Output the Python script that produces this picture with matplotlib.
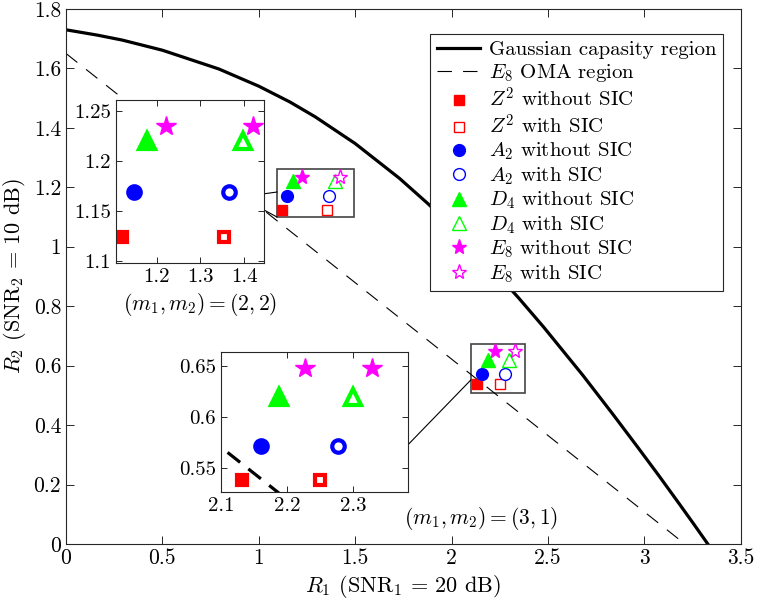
import numpy as np
import matplotlib
matplotlib.use('Agg')
import matplotlib.pyplot as plt
from matplotlib.patches import Rectangle

plt.rcParams['font.family'] = 'cmr10'
plt.rcParams['mathtext.fontset'] = 'cm'
plt.rcParams['axes.formatter.use_mathtext'] = True

# Gaussian capacity region boundary
cap_r1 = [0.0, 0.161, 0.2925, 0.5, 0.7925, 1.0, 1.161, 1.2925, 1.5, 1.7297,
          1.877, 2.0, 2.196, 2.350, 2.477, 2.679, 2.836, 2.965, 3.075, 3.170,
          3.254, 3.329]
cap_r2 = [1.7297, 1.712, 1.695, 1.661, 1.598, 1.540, 1.487, 1.437, 1.347, 1.230,
          1.145, 1.069, 0.937, 0.826, 0.730, 0.569, 0.437, 0.326, 0.230, 0.145,
          0.069, 0.0]

# E8 OMA region
oma_r1 = [0.0, 3.21]
oma_r2 = [1.65, 0.0]

lattices = ['Z^2', 'A_2', 'D_4', 'E_8']

# (m1, m2) = (2, 2)
r1_22_nosic = [1.120, 1.148, 1.177, 1.222]
r1_22_sic = [1.354, 1.366, 1.396, 1.421]
r2_22 = [1.124, 1.169, 1.220, 1.235]

# (m1, m2) = (3, 1)
r1_31_nosic = [2.131, 2.160, 2.187, 2.227]
r1_31_sic = [2.250, 2.277, 2.299, 2.329]
r2_31 = [0.538, 0.572, 0.620, 0.648]

colors = ['#ff0000', '#0000ff', '#00ff00', '#ff00ff']
markers = ['s', 'o', '^', '*']
ms_main = [7, 8.5, 9.5, 11]
ms_inset = [7.5, 9, 12, 15]
mew_inset = [3, 3, 3, 1]
frame_col = '#262626'


def style_axes(ax, fs, ticklen):
    ax.tick_params(direction='in', top=True, right=True, labelsize=fs,
                   length=ticklen, width=0.7, color=frame_col)
    for s in ax.spines.values():
        s.set_color(frame_col)
        s.set_linewidth(0.8)


def inset_points(axi, r1_no, r1_sic, r2):
    for i in range(4):
        axi.plot(r1_no[i], r2[i], ls='none', marker=markers[i],
                 ms=ms_inset[i], color=colors[i], mec=colors[i], mew=mew_inset[i])
        # thick open edge; the star fills up completely
        face = colors[i] if markers[i] == '*' else 'white'
        axi.plot(r1_sic[i], r2[i], ls='none', marker=markers[i],
                 ms=ms_inset[i], mfc=face, mec=colors[i], mew=mew_inset[i])


fig = plt.figure(figsize=(7.59, 6.06), dpi=100)
ax = fig.add_axes([0.087, 0.1023, 0.889, 0.883])

ax.plot(cap_r1, cap_r2, color='black', lw=2.3, label='Gaussian capasity region')
ax.plot(oma_r1, oma_r2, color='black', lw=0.8, ls=(0, (13, 10)),
        label='$E_8$ OMA region')

for i, lat in enumerate(lattices):
    for r1, r2 in [(r1_22_nosic, r2_22), (r1_31_nosic, r2_31)]:
        ax.plot(r1[i], r2[i], ls='none', marker=markers[i], ms=ms_main[i],
                color=colors[i], mec=colors[i], mew=1,
                label='$%s$ without SIC' % lat if r2 is r2_22 else None)
    for r1, r2 in [(r1_22_sic, r2_22), (r1_31_sic, r2_31)]:
        ax.plot(r1[i], r2[i], ls='none', marker=markers[i], ms=ms_main[i],
                mfc='white', mec=colors[i], mew=1,
                label='$%s$ with SIC' % lat if r2 is r2_22 else None)

# zoom rectangles
ax.add_patch(Rectangle((1.094, 1.100), 0.399, 0.162, fill=False,
                       ec='#444444', lw=1.2, zorder=1))
ax.add_patch(Rectangle((2.100, 0.507), 0.279, 0.166, fill=False,
                       ec='#444444', lw=1.2, zorder=1))

# connectors to insets
ax.plot([1.026, 1.094], [1.178, 1.184], color='black', lw=0.8)
ax.plot([1.026, 1.094], [1.124, 1.100], color='black', lw=0.8)
ax.plot([1.768, 2.100], [0.330, 0.552], color='black', lw=0.8)

ax.set_xlim(0, 3.5)
ax.set_ylim(0, 1.8)
ax.set_xticks(np.arange(0, 3.51, 0.5))
ax.set_xticklabels(['0', '0.5', '1', '1.5', '2', '2.5', '3', '3.5'])
ax.set_yticks(np.arange(0, 1.81, 0.2))
ax.set_yticklabels(['0', '0.2', '0.4', '0.6', '0.8', '1', '1.2', '1.4', '1.6', '1.8'])
style_axes(ax, 15.5, 6)
ax.set_xlabel(r'$R_1$ (SNR$_1$ = 20 dB)', fontsize=16, labelpad=3)
ax.set_ylabel(r'$R_2$ (SNR$_2$ = 10 dB)', fontsize=16, labelpad=4)

handles, labels = ax.get_legend_handles_labels()
# reorder: lines, then each lattice without / with
order = [0, 1]
for i in range(4):
    order += [2 + 2 * i, 3 + 2 * i]
leg = ax.legend([handles[k] for k in order], [labels[k] for k in order],
                loc='upper right', bbox_to_anchor=(0.973, 0.953),
                borderaxespad=0, fontsize=15, frameon=True, fancybox=False,
                framealpha=1, edgecolor=frame_col, handlelength=2.1,
                labelspacing=0.14, handletextpad=0.4, borderpad=0.3)
leg.get_frame().set_linewidth(0.8)

# inset (2,2)
ax1 = fig.add_axes([0.1528, 0.566, 0.195, 0.269])
inset_points(ax1, r1_22_nosic, r1_22_sic, r2_22)
ax1.set_xlim(1.107, 1.445)
ax1.set_ylim(1.098, 1.261)
ax1.set_xticks([1.2, 1.3, 1.4])
ax1.set_xticklabels(['1.2', '1.3', '1.4'])
ax1.set_yticks([1.1, 1.15, 1.2, 1.25])
ax1.set_yticklabels(['1.1', '1.15', '1.2', '1.25'])
style_axes(ax1, 15, 4)

# inset (3,1)
ax2 = fig.add_axes([0.2912, 0.1881, 0.2464, 0.231])
ax2.plot(oma_r1, oma_r2, color='black', lw=2.3, ls=(0, (5, 3.3)))
inset_points(ax2, r1_31_nosic, r1_31_sic, r2_31)
ax2.set_xlim(2.1, 2.383)
ax2.set_ylim(0.5266, 0.664)
ax2.set_xticks([2.1, 2.2, 2.3])
ax2.set_xticklabels(['2.1', '2.2', '2.3'])
ax2.set_yticks([0.55, 0.6, 0.65])
ax2.set_yticklabels(['0.55', '0.6', '0.65'])
style_axes(ax2, 15, 4)

fig.text(200 / 759, 1 - 305 / 606, '$(m_1, m_2) = (2, 2)$', fontsize=15.5,
         ha='center', va='center')
fig.text(481 / 759, 1 - 519 / 606, '$(m_1, m_2) = (3, 1)$', fontsize=15.5,
         ha='center', va='center')

fig.savefig('out.png', dpi=100)
